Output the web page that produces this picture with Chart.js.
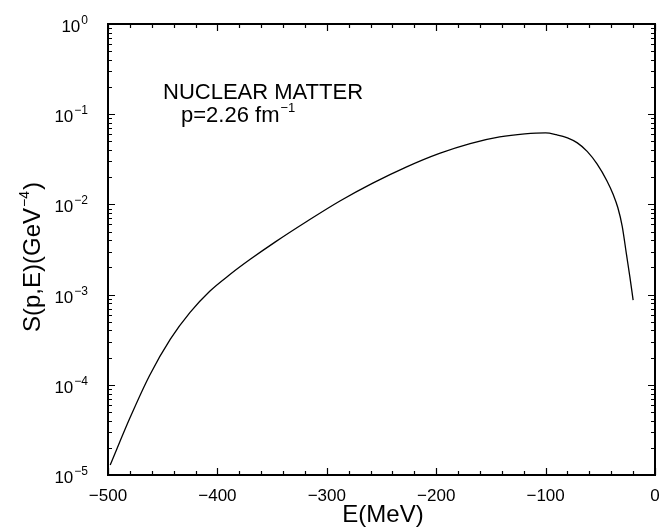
<!DOCTYPE html>
<html>
<head>
<meta charset="utf-8">
<title>Spectral function, nuclear matter</title>
<script src="https://cdn.jsdelivr.net/npm/chart.js@4.4.1/dist/chart.umd.min.js"></script>
<style>
    html, body { margin: 0; padding: 0; background: #fff; }
    #wrap { width: 664px; height: 532px; position: relative; }
</style>
</head>
<body>
<div id="wrap"><canvas id="myChart"></canvas></div>
<script>
// Removal energy E (MeV) and spectral function S(p,E) (GeV^-4) at p = 2.26 fm^-1
const energies = [-498, -480, -462, -443, -425, -407, -388, -370, -347, -318, -288, -258,
                  -227, -197, -169, -142, -119, -100, -90, -80, -71, -62, -53, -44,
                  -38, -34, -30, -26, -23, -20];
const strength = [1.29e-5, 4.28e-5, 1.27e-4, 3.21e-4, 6.35e-4, 1.09e-3, 1.69e-3, 2.46e-3, 3.84e-3, 6.5e-3, 1.09e-2, 1.72e-2,
                  2.61e-2, 3.68e-2, 4.73e-2, 5.6e-2, 6.05e-2, 6.21e-2, 5.92e-2, 5.47e-2, 4.81e-2, 3.87e-2, 2.81e-2, 1.83e-2,
                  1.27e-2, 9.23e-3, 5.75e-3, 2.75e-3, 1.58e-3, 8.7e-4];

// Axis ticks
const xTicks = [-500, -400, -300, -200, -100, 0];
const xMinorStep = 20;
const yExponents = [-5, -4, -3, -2, -1, 0];

const FONT = '"Liberation Sans", Arial, Helvetica, sans-serif';

function minusText(n) {
    return n < 0 ? '\u2212' + (-n) : String(n);
}

// Draws "base" with a raised exponent; (x, y) is the left end of the baseline
function drawPower(ctx, base, sup, x, y, size, supSize, rise) {
    ctx.font = size + 'px ' + FONT;
    ctx.fillText(base, x, y);
    const w = ctx.measureText(base).width;
    ctx.font = supSize + 'px ' + FONT;
    ctx.fillText(sup, x + w + 1, y - rise);
    return w + 1 + ctx.measureText(sup).width;
}

function powerWidth(ctx, base, sup, size, supSize) {
    ctx.font = size + 'px ' + FONT;
    const w = ctx.measureText(base).width;
    ctx.font = supSize + 'px ' + FONT;
    return w + 1 + ctx.measureText(sup).width;
}

// Frame, inward ticks, log tick labels and the text on the plot
const framePlugin = {
    id: 'frame',
    afterDraw(chart) {
        const ctx = chart.ctx;
        const a = chart.chartArea;
        const xs = chart.scales.x;
        const ys = chart.scales.y;
        ctx.save();
        ctx.strokeStyle = '#000';
        ctx.fillStyle = '#000';

        // box
        ctx.lineWidth = 2;
        ctx.strokeRect(a.left, a.top, a.right - a.left, a.bottom - a.top);

        ctx.lineWidth = 1.2;
        ctx.beginPath();
        // x ticks, bottom and top
        for (let v = xs.min; v <= xs.max; v += xMinorStep) {
            const px = Math.round(xs.getPixelForValue(v)) + 0.5;
            const len = xTicks.includes(v) ? 7 : 4;
            ctx.moveTo(px, a.bottom); ctx.lineTo(px, a.bottom - len);
            ctx.moveTo(px, a.top); ctx.lineTo(px, a.top + len);
        }
        // y ticks, left and right
        yExponents.forEach(e => {
            for (let k = 1; k <= 9; k++) {
                const v = k * Math.pow(10, e);
                if (v > ys.max * 1.0001) break;
                const py = Math.round(ys.getPixelForValue(v)) + 0.5;
                const len = k === 1 ? 7 : 4;
                ctx.moveTo(a.left, py); ctx.lineTo(a.left + len, py);
                ctx.moveTo(a.right, py); ctx.lineTo(a.right - len, py);
            }
        });
        ctx.stroke();

        // y tick labels 10^n
        ctx.textBaseline = 'alphabetic';
        ctx.textAlign = 'left';
        yExponents.forEach(e => {
            const py = ys.getPixelForValue(Math.pow(10, e));
            const sup = minusText(e);
            const w = powerWidth(ctx, '10', sup, 17, 12);
            drawPower(ctx, '10', sup, a.left - 20 - w, py + 8, 17, 12, 8);
        });

        // x axis title
        ctx.font = '24px ' + FONT;
        ctx.textAlign = 'center';
        ctx.fillText('E(MeV)', 383, 522);

        // y axis title, rotated
        ctx.save();
        ctx.translate(40, (a.top + a.bottom) / 2 + 8);
        ctx.rotate(-Math.PI / 2);
        ctx.textAlign = 'left';
        const tw = powerWidth(ctx, 'S(p,E)(GeV', '\u22124', 24, 14);
        ctx.font = '24px ' + FONT;
        const close = ctx.measureText(')').width;
        const x0 = -(tw + close) / 2;
        const used = drawPower(ctx, 'S(p,E)(GeV', '\u22124', x0, 0, 24, 14, 11);
        ctx.font = '24px ' + FONT;
        ctx.fillText(')', x0 + used + 1, 0);
        ctx.restore();

        // label on the plot
        ctx.textAlign = 'left';
        ctx.font = '22px ' + FONT;
        ctx.fillText('NUCLEAR MATTER', a.left + 55, 99);
        drawPower(ctx, 'p=2.26 fm', '\u22121', a.left + 73, 122, 22, 13, 10);

        ctx.restore();
    }
};

const ctx = document.getElementById('myChart').getContext('2d');
const myChart = new Chart(ctx, {
    type: 'line',
    data: {
        datasets: [{
            data: energies.map((e, i) => ({ x: e, y: strength[i] })),
            borderColor: '#000',
            borderWidth: 1.3,
            pointRadius: 0,
            fill: false,
            cubicInterpolationMode: 'monotone'
        }]
    },
    options: {
        responsive: true,
        maintainAspectRatio: false,
        animation: false,
        layout: { padding: { top: 24, right: 9, left: 0, bottom: 0 } },
        plugins: {
            legend: { display: false },
            tooltip: { enabled: false }
        },
        scales: {
            x: {
                type: 'linear',
                min: -500,
                max: 0,
                afterBuildTicks: scale => { scale.ticks = xTicks.map(v => ({ value: v })); },
                afterFit: scale => {
                    scale.height = 57;
                    scale.paddingLeft = 0;
                    scale.paddingRight = 0;
                },
                grid: { display: false, drawTicks: false },
                border: { display: false },
                ticks: {
                    color: '#000',
                    padding: 11,
                    maxRotation: 0,
                    autoSkip: false,
                    font: { family: FONT, size: 17 },
                    callback: v => minusText(v)
                }
            },
            y: {
                type: 'logarithmic',
                min: 1e-5,
                max: 1,
                afterFit: scale => { scale.width = 108; },
                grid: { display: false, drawTicks: false },
                border: { display: false },
                ticks: { display: false }
            }
        }
    },
    plugins: [framePlugin]
});
</script>
</body>
</html>
